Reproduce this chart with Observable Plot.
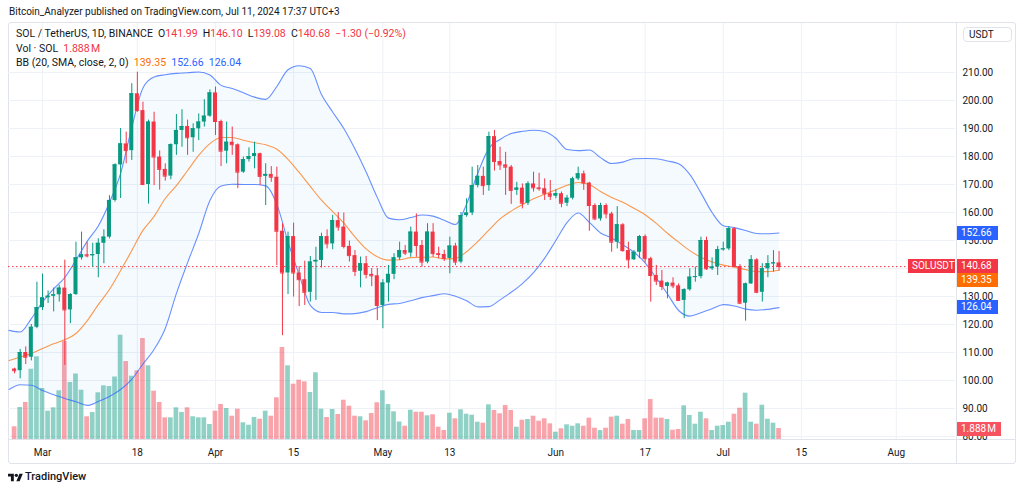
<!DOCTYPE html>
<html>
<head>
<meta charset="utf-8">
<script src="https://cdn.jsdelivr.net/npm/d3@7"></script>
<script src="https://cdn.jsdelivr.net/npm/@observablehq/plot@0.6"></script>
<style>
  html,body{margin:0;padding:0;background:#fff;}
  #wrap{position:relative;width:1024px;height:492px;overflow:hidden;font-family:Roboto,"Liberation Sans",sans-serif;color:#131722;}
  .abs{position:absolute;white-space:nowrap;}
  .layer{position:absolute;left:0;top:22px;width:1024px;height:441px;}
  .layer svg{display:block;}
  .tag{position:absolute;height:14px;line-height:14px;font-size:10px;color:#fff;padding:0 4px;box-sizing:border-box;white-space:nowrap;}
  .lg{position:absolute;left:16px;font-size:10.5px;line-height:12px;white-space:nowrap;}
  .r{color:#f23645}
</style>
</head>
<body>
<div id="wrap">
  <div class="abs" style="left:9px;top:6px;font-size:10px;line-height:12px;">Bitcoin_Analyzer published on TradingView.com, Jul 11, 2024 17:37 UTC+3</div>
  <div class="abs" style="left:8px;top:22px;width:1008px;height:442px;border:1px solid #e0e3eb;box-sizing:border-box;border-radius:3px;"></div>
  <div class="abs" style="left:956px;top:22px;width:1px;height:442px;background:#e0e3eb"></div>
  <div class="abs" style="left:8px;top:439px;width:1008px;height:1px;background:#e0e3eb"></div>
  <div class="layer" id="gridLayer"></div>
  <div class="layer" id="volLayer"></div>
  <div class="layer" id="mainLayer"></div>
  <div class="abs" style="left:963px;top:27px;width:49px;height:15px;border:1px solid #e0e3eb;border-radius:4px;box-sizing:border-box;font-size:10px;line-height:13px;padding-left:5px;">USDT</div>
  <div id="legend"></div>
  <div id="tags"></div>
  <svg class="abs" style="left:8px;top:472px" width="15" height="10" viewBox="0 0 36 24"><path d="M14 22H7V11H0V4h14v18zM28 22h-8l7.5-18h8L28 22z" fill="#131722"/><circle cx="20" cy="8" r="4" fill="#131722"/></svg>
  <div class="abs" style="left:25px;top:470px;font-size:11px;line-height:13px;font-weight:500;">TradingView</div>
</div>
<script>
// ---------- DATA (daily candles, Feb 25 – Jul 11 2024) ----------
const firstDay = "2024-02-25";
const opens = [
  104.1,103.5,110,108.3,119,
  126,129.5,130.1,130.6,133,125.2,130.7,143.8,144.9,144.5,
  145,149,151.2,164.3,177,184.5,182.1,202.4,196.4,170,
  192.3,179.8,175.4,173,184.2,189.3,190.7,186.7,189.9,192.3,
  194.4,202.7,192.5,181.9,185.1,184.2,174.4,178.9,180,181,
  172.9,173.6,172.6,153.3,138.4,151.4,138.4,136,131.5,142.3,
  142.9,151.4,148.8,157.1,154.8,147.9,144.6,139,141.7,137.9,
  137.4,126.8,134.8,137.9,143.8,146.4,145.5,153,148.2,142.3,
  153,145.3,145,143.6,148,142.3,158.9,159.8,169.6,172.9,
  169.6,187.1,178.2,177,176.2,167.9,168.7,163.3,170.2,168.8,
  168.5,166.7,165.8,166.7,163.3,165.1,172,173.8,170.5,162.5,
  157.7,162.5,159.5,149.4,155.6,146.4,143.1,145.8,151.4,143.5,
  137.5,135.5,133.6,134.8,133.8,128.6,132.4,136.9,137.1,150,
  139.9,140.5,146.7,147,154.2,140.7,127.6,134.5,143.1,131.5,
  139.9,141.7,141.99];
const highs = [
  104.4,111.1,112,120,135.1,
  138,132,133,134,143,131,149.4,153,149.4,149,
  150.6,153.8,166,177.4,190,188.7,206,210.1,199.4,193,
  195.8,182,177.4,184.5,195,196.7,193,191.7,195.2,200.3,
  203.8,204.8,193,192.3,190.5,184.5,179.8,183.1,185.1,181.2,
  177.4,176.4,176.2,156,153,156.2,140.7,142.6,144.3,147.6,
  152.6,153.8,159,160,159.8,149.8,146.4,144.1,144.3,140,
  140,136,141.1,145.3,149.4,148.2,154.8,159.5,150,156,
  156,147.6,146.5,151.2,149,160,164.9,176.2,176.8,176.2,
  188.7,189.3,183.3,181.5,176.8,170.8,170.2,171,174.4,174,
  172,171.4,168.1,167.3,166.1,172.6,176.2,174.8,170.8,163.1,
  163.3,163.1,160.1,162.1,156,149.4,146.4,151.8,152,144,
  141.1,139.3,135.1,136.7,134.5,132.8,139.9,140.5,151.2,151.2,
  143.8,147.9,149.4,155,154.5,141.4,134.8,144.6,143.5,141.7,
  144.6,146.4,146.10];
const lows = [
  102.4,100.6,105.7,107,118.5,
  125,127.5,124.5,128,105.4,120.3,130.4,143,143.8,140.5,
  136.7,141.7,150.6,163.7,165,177.4,178.6,195.8,169.6,163,
  169.6,168,171.2,171.7,180.4,183.3,180.4,181.5,185.7,190.5,
  194,187.5,176.4,177.4,180.4,168.5,174,178,175.6,169.6,
  162.5,170.8,141,116,130.7,129.8,126.4,126.8,128,128.6,
  140.2,147,146.7,153.3,147,142.3,137.1,133.1,136.3,133.5,
  121.4,118.5,128,136,142.9,144.6,144,144,140.5,141.7,
  144,143.5,142.5,138.1,141,141.7,158.3,158.9,168.8,166.1,
  167.6,174.8,175,166.1,162.9,166.1,161.3,162.5,167.3,167.6,
  164.3,164.3,164.9,161.7,162.1,164.5,171.4,167.9,153.3,157.1,
  156.9,157.7,145.8,147,145.8,139.9,142.9,143.5,142,128,
  133.9,132.1,129.2,132.8,128.3,122.1,131.9,135.1,136.3,139.3,
  139.3,137.5,146.2,146.4,140.5,127.1,121.2,134.3,131,128,
  136.7,138.7,139.08];
const closes = [
  103.5,110,108.3,119,126,
  129.5,130.1,130.6,133,125.2,130.7,143.8,144.9,144.5,145,
  149,151.2,164.3,177,184.5,182.1,202.4,196.4,170,192.3,
  179.8,175.4,173,184.2,189.3,190.7,186.7,189.9,192.3,194.4,
  202.7,192.5,181.9,185.1,184.2,174.4,178.9,180,181,172.9,
  173.6,172.6,153.3,138.4,151.4,138.4,136,131.5,142.3,142.9,
  151.4,148.8,157.1,154.8,147.9,144.6,139,141.7,137.9,137.4,
  126.8,134.8,137.9,143.8,146.4,145.5,153,148.2,142.3,153,
  145.3,145,143.6,148,142.3,158.9,159.8,169.6,172.9,169.6,
  187.1,178.2,177,176.2,167.9,168.7,163.3,170.2,168.8,168.5,
  166.7,165.8,166.7,163.3,165.1,172,173.8,170.5,162.5,157.7,
  162.5,159.5,149.4,155.6,146.4,143.1,145.8,151.4,143.5,137.5,
  135.5,133.6,134.8,133.8,128.6,132.4,136.9,137.1,150,139.9,
  140.5,146.7,147,154.2,140.7,127.6,134.5,143.1,131.5,139.9,
  141.7,141.99,140.68];
// volume, millions of SOL
const volumes = [
  2.18,5.49,6.35,12.06,14.19,
  8.75,4.86,5.44,8.36,16.82,9.78,11.24,8.46,3.9,4.63,
  8.01,9.21,9.09,10.73,17.9,13.38,10.86,11.79,17.33,12.65,
  8.29,6.35,3.72,3.72,5.44,4.63,5.44,3.9,3.72,3.72,
  2.57,4.86,6.01,5.32,4.0,5.2,2.87,2.45,3.78,3.48,
  4.86,4.0,7.16,15.79,12.65,9.49,10.18,9.9,8.07,11.45,
  5.2,3.78,5.15,4.29,6.74,5.71,4.0,3.9,3.21,4.46,
  6.3,8.36,6.0,4.75,3.0,2.28,5.03,4.68,4.68,4.07,
  4.24,2.11,1.54,4.51,3.55,5.1,4.34,4.17,2.97,2.8,
  5.95,4.98,4.41,5.83,4.98,2.11,3.31,3.43,4.0,3.14,
  3.55,2.69,1.25,1.84,2.52,2.28,2.69,2.28,3.66,1.94,
  1.54,1.94,3.83,4.0,2.63,3.43,1.54,1.54,3.55,6.86,
  3.66,3.66,3.43,1.6,1.72,5.78,4.12,2.63,4.68,3.55,
  1.54,2.28,2.4,2.97,4.34,5.37,7.95,2.97,2.63,5.89,
  3.48,2.8,1.888];

// Bollinger Bands (20, SMA, close, 2) read every 2 days from Feb 24
const bbFirstDay = "2024-02-24";
const bbUpper = [117.9,117.3,122.1,128,132.7,136.8,143,149.7,155.2,163.6,
  174,190.4,204.5,208.4,209.2,209.7,209.9,210.2,209.1,205.4,
  204.3,202.8,201.2,200.4,205,211,212.4,211.4,202.1,195.9,
  190,182.7,174.5,165.4,158,157.4,158.2,159.1,158.7,157.2,
  155.7,163,174,182.9,186.1,188.2,189,189.4,188.9,186.5,
  182.5,182.1,182.3,179.6,177.5,178,179.2,179.3,179.2,178.4,
  177.4,173.6,167,160,155.3,154.6,153.6,152.5,152.4,152.66];
const bbBasis = [107.1,108.4,109.6,111.4,113.1,114.6,116.8,121.3,127.1,132.5,
  139.3,146.4,153.6,158.6,165,169.6,175,180.4,184.6,186.8,
  186.8,185.8,184.9,184.2,182.6,179,174.3,169.3,164.4,160.3,
  156.2,151.3,147,144.2,143,143.1,143.9,144,144.1,143.4,
  143.6,146,149.6,153.7,157.7,160.5,162.8,164.9,166.5,168.1,
  169.7,170.7,170,167.5,165.4,163.7,161.5,159.2,156.1,152.6,
  149.4,146.4,144,142.3,141.2,140.5,139.6,138.9,138.9,139.35];
const bbLower = [96.8,98.5,98.3,96.4,94.9,93.6,92.4,91.1,92.5,94.3,
  96.8,100.4,105.9,111.1,118.6,131.1,142.1,152.5,164.3,169.5,
  170.1,170,170,169.5,162.9,149.5,137.7,126.8,124.3,124.3,
  123.8,123.9,124.6,126,127.2,127.5,128.5,129.6,130.3,131,
  130.1,128.5,126.3,126.4,128.8,131.5,134.6,138.5,143.7,150,
  156.4,159.8,156.5,152.7,150.9,148.5,145.8,142,136.6,130.9,
  125,123,124.2,125.6,127.1,126.6,125.5,125.1,125.4,126.04];

const gridTicks = [80,90,100,110,120,130,140,150,160,170,180,190,200,210];
// 140.00 is hidden under the last-price tag in the original
const priceTicks = [80,90,100,110,120,130,150,160,170,180,190,200,210];
const timeTicks = ["2024-03-01","2024-03-18","2024-04-01","2024-04-15","2024-05-01","2024-05-13","2024-06-01","2024-06-17","2024-07-01","2024-07-15","2024-08-01"];
const timeTickLabels = ["Mar","18","Apr","15","May","13","Jun","17","Jul","15","Aug"];
const changeText = "\u22121.30 (\u22120.92%)";

// ---------- BUILD ----------
const DAY = 864e5;
const GREEN = "#089981", RED = "#f23645";
const t0 = Date.parse(firstDay);
const candles = opens.map((o, i) => ({
  date: new Date(t0 + i * DAY), open: o, high: highs[i], low: lows[i], close: closes[i],
  volume: volumes[i], up: closes[i] >= o
}));
const tb = Date.parse(bbFirstDay);
const bb = bbUpper.map((u, i) => ({date: new Date(tb + 2 * i * DAY), upper: u, basis: bbBasis[i], lower: bbLower[i]}));
const tickDates = timeTicks.map(s => new Date(s));
const tickLabelOf = new Map(tickDates.map((d, i) => [+d, timeTickLabels[i]]));

const mar1 = Date.parse("2024-03-01");
const xDomain = [new Date(mar1 - 6.093 * DAY), new Date(mar1 + 163.62 * DAY)];
const yDomain = [78.93, 227.5];
const common = {
  width: 1024, height: 441, marginLeft: 8, marginRight: 69, marginTop: 1, marginBottom: 24,
  style: {background: "transparent", fontFamily: "Roboto, 'Liberation Sans', sans-serif", fontSize: "10px", color: "#131722", overflow: "visible"},
  x: {type: "utc", domain: xDomain, axis: null},
  color: {type: "identity"}
};
const halfBody = 0.36 * DAY, halfVol = 0.42 * DAY;

const gridPlot = Plot.plot({
  ...common,
  y: {domain: yDomain, axis: null},
  marks: [
    Plot.gridY(gridTicks, {stroke: "#eef1f6", strokeOpacity: 1}),
    Plot.gridX(tickDates, {stroke: "#eef1f6", strokeOpacity: 1})
  ]
});
document.getElementById("gridLayer").appendChild(gridPlot);

const volPlot = Plot.plot({
  ...common,
  y: {domain: [0, 71.4], axis: null},
  marks: [
    Plot.rect(candles, {
      x1: d => new Date(+d.date - halfVol), x2: d => new Date(+d.date + halfVol),
      y1: d => 0, y2: "volume", fill: d => d.up ? GREEN : RED, fillOpacity: 0.45
    })
  ]
});
document.getElementById("volLayer").appendChild(volPlot);

const last = candles[candles.length - 1];
const mainPlot = Plot.plot({
  ...common,
  y: {domain: yDomain},
  marks: [
    Plot.areaY(bb, {x: "date", y1: "lower", y2: "upper", fill: "#2196f3", fillOpacity: 0.05, curve: "monotone-x", clip: true}),
    Plot.lineY(bb, {x: "date", y: "upper", stroke: "#2962ff", strokeOpacity: 0.7, strokeWidth: 1.1, curve: "monotone-x", clip: true}),
    Plot.lineY(bb, {x: "date", y: "lower", stroke: "#2962ff", strokeOpacity: 0.7, strokeWidth: 1.1, curve: "monotone-x", clip: true}),
    Plot.lineY(bb, {x: "date", y: "basis", stroke: "#ff6d00", strokeOpacity: 0.7, strokeWidth: 1.1, curve: "monotone-x", clip: true}),
    Plot.ruleY([last.close], {stroke: RED, strokeDasharray: "1.5,2.5", strokeWidth: 1}),
    Plot.ruleX(candles, {x: "date", y1: "low", y2: "high", stroke: d => d.up ? GREEN : RED}),
    Plot.rect(candles, {
      x1: d => new Date(+d.date - halfBody), x2: d => new Date(+d.date + halfBody),
      y1: d => Math.min(d.open, d.close), y2: d => Math.max(d.open, d.close),
      fill: d => d.up ? GREEN : RED
    }),
    Plot.ruleY(candles, {y: "close", x1: d => new Date(+d.date - halfBody), x2: d => new Date(+d.date + halfBody), stroke: d => d.up ? GREEN : RED}),
    Plot.axisY(priceTicks, {anchor: "right", tickSize: 0, tickPadding: 7, tickFormat: d3.format(".2f"), label: null, fill: "#131722"}),
    Plot.axisX(tickDates, {anchor: "bottom", tickSize: 0, tickPadding: 9, tickFormat: d => tickLabelOf.get(+d), label: null, fill: "#131722"})
  ]
});
document.getElementById("mainLayer").appendChild(mainPlot);

// ---------- LEGEND ----------
const f2 = d3.format(".2f");
const lastVol = volumes[volumes.length - 1];
const nb = bb.length - 1;
document.getElementById("legend").innerHTML = `
  <div class="lg" style="top:28px">SOL / TetherUS, 1D, BINANCE&nbsp;&nbsp;O<span class="r">${f2(last.open)}</span>&nbsp;&nbsp;H<span class="r">${f2(last.high)}</span>&nbsp;&nbsp;L<span class="r">${f2(last.low)}</span>&nbsp;&nbsp;C<span class="r">${f2(last.close)}</span>&nbsp;&nbsp;<span class="r">${changeText}</span></div>
  <div class="lg" style="top:43px">Vol · SOL&nbsp;&nbsp;<span class="r">${d3.format(".3f")(lastVol)}\u202fM</span></div>
  <div class="lg" style="top:57px">BB (20, SMA, close, 2, 0)&nbsp;&nbsp;<span style="color:#ff6d00">${f2(bbBasis[nb])}</span>&nbsp;&nbsp;<span style="color:#2962ff">${f2(bbUpper[nb])}</span>&nbsp;&nbsp;<span style="color:#2962ff">${f2(bbLower[nb])}</span></div>`;

// ---------- PRICE TAGS ----------
const ys = mainPlot.scale("y"), vs = volPlot.scale("y");
const top0 = 22;
function tag(text, yCenter, bg, left, width) {
  return `<div class="tag" style="left:${left}px;width:${width}px;top:${Math.round(yCenter - 7)}px;background:${bg}">${text}</div>`;
}
const yClose = ys.apply(last.close) + top0;
const yBasis = Math.max(ys.apply(bbBasis[nb]) + top0, yClose + 14);
document.getElementById("tags").innerHTML =
  tag(f2(bbUpper[nb]), ys.apply(bbUpper[nb]) + top0, "#2962ff", 957, 41) +
  tag("SOLUSDT", yClose, RED, 908, 47) +
  tag(f2(last.close), yClose, RED, 957, 41) +
  tag(f2(bbBasis[nb]), yBasis, "#ff6d00", 957, 41) +
  tag(f2(bbLower[nb]), ys.apply(bbLower[nb]) + top0, "#2962ff", 957, 41) +
  tag(d3.format(".3f")(lastVol) + "\u202fM", vs.apply(lastVol) + top0 + 1, "#f7525f", 957, 44);
</script>
</body>
</html>
